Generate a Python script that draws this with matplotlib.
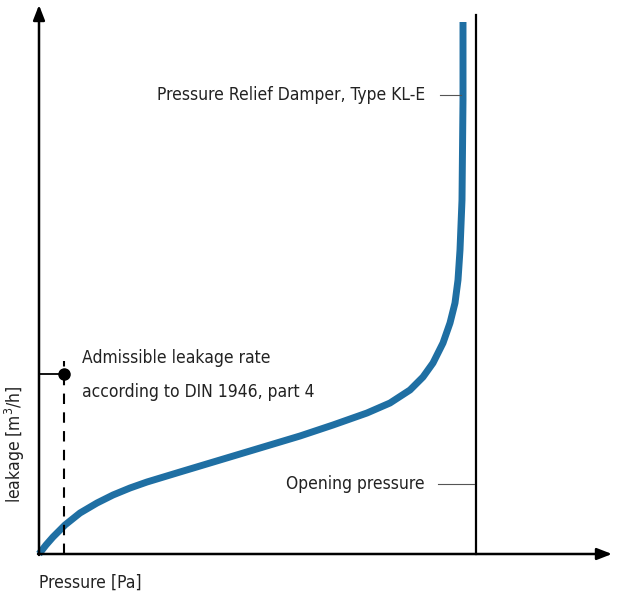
import matplotlib
matplotlib.use("Agg")
import matplotlib.pyplot as plt
from matplotlib import font_manager

# Curve data (arbitrary units)
pressure = [0, 7, 14, 26, 41, 58, 74, 91, 108, 141, 171, 211, 261, 294, 328, 351, 371, 384,
            394, 404, 411, 416, 419, 421, 423, 424, 424]
leakage = [0, 9, 17, 29, 41, 51, 59, 66, 72, 82, 91, 103, 118, 129, 141, 151, 164, 177,
           191, 211, 231, 251, 274, 304, 354, 454, 532]

opening_pressure = 437
admissible_p = 25
admissible_leak = 180

names = {f.name for f in font_manager.fontManager.ttflist}
cond = [f for f in font_manager.fontManager.ttflist if 'Condensed' in f.fname or 'Narrow' in f.fname]
fam = ['DejaVu Sans']
stretch = 'normal'
if 'Liberation Sans Narrow' in names:
    fam = ['Liberation Sans Narrow', 'DejaVu Sans']
elif any('DejaVuSansCondensed' in f.fname for f in cond):
    stretch = 'condensed'
plt.rcParams['font.family'] = fam
plt.rcParams['font.stretch'] = stretch

fig = plt.figure(figsize=(6.19, 5.97), dpi=100)
ax = fig.add_axes([0, 0, 1, 1])
ax.set_xlim(-39, 580)
ax.set_ylim(-43, 554)
ax.axis('off')

blue = '#1f6fa3'
txt = '#222222'

# axes arrows
ax.annotate('', xy=(573, 0), xytext=(-1, 0),
            arrowprops=dict(arrowstyle='-|>,head_length=0.9,head_width=0.35', lw=1.8, color='black',
                            shrinkA=0, shrinkB=0))
ax.annotate('', xy=(0, 549), xytext=(0, -1),
            arrowprops=dict(arrowstyle='-|>,head_length=0.9,head_width=0.35', lw=1.8, color='black',
                            shrinkA=0, shrinkB=0))

# opening pressure vertical line
ax.plot([opening_pressure, opening_pressure], [0, 539], color='black', lw=1.6)

# curve
ax.plot(pressure, leakage, color=blue, lw=5, solid_capstyle='butt', solid_joinstyle='round')

# admissible leakage
ax.plot([admissible_p, admissible_p], [0, 193], color='black', lw=1.5, dashes=(5, 4))
ax.plot([0, admissible_p], [admissible_leak, admissible_leak], color='black', lw=1.3)
ax.plot([admissible_p], [admissible_leak], 'o', color='black', ms=8)

fs = 12.5 if stretch == 'condensed' or fam[0] != 'DejaVu Sans' else 11.5
ax.text(43, 196, 'Admissible leakage rate', fontsize=fs, color=txt, va='center', ha='left')
ax.text(43, 162, 'according to DIN 1946, part 4', fontsize=fs, color=txt, va='center', ha='left')

# labels with leader lines
ax.text(386, 459, 'Pressure Relief Damper, Type KL-E', fontsize=fs, color=txt, va='center', ha='right')
ax.plot([401, 422], [459, 459], color='#555555', lw=0.8)

ax.text(386, 70, 'Opening pressure', fontsize=fs, color=txt, va='center', ha='right')
ax.plot([399, 435], [70, 70], color='#555555', lw=0.8)

ax.text(0, -29, 'Pressure [Pa]', fontsize=fs, color=txt, va='center', ha='left')
ax.text(-24, 110, 'leakage [m$^3$/h]', fontsize=fs, color=txt, va='center', ha='center', rotation=90)

fig.savefig('out.png', dpi=100)
